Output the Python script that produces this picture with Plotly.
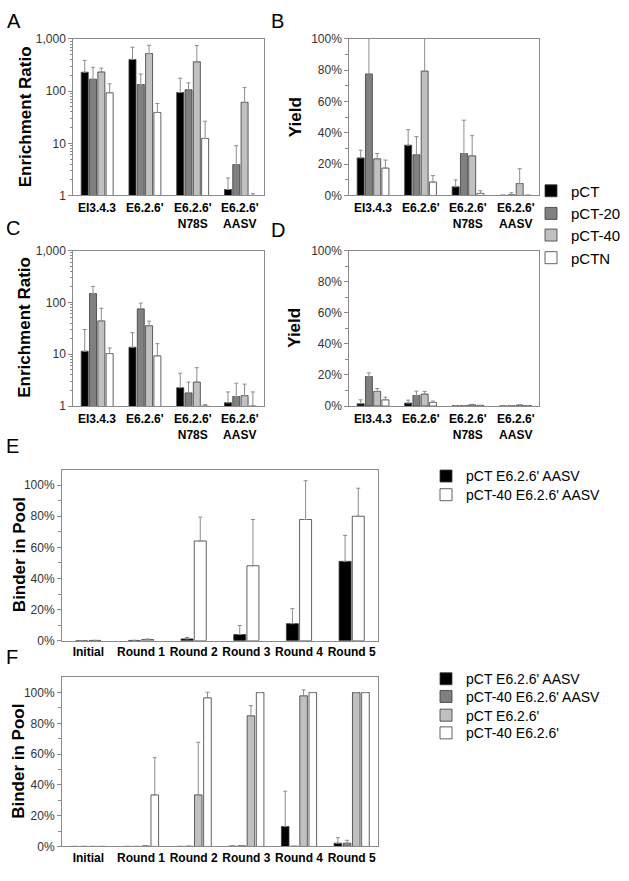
import plotly.graph_objects as go

W, H = 629, 881
FONT = "Liberation Sans"

# ---------------- data ----------------
groups = ["EI3.4.3", "E6.2.6'", "E6.2.6'<br>N78S", "E6.2.6'<br>AASV"]
series = ["pCT", "pCT-20", "pCT-40", "pCTN"]
series_colors = ["#000000", "#808080", "#c0c0c0", "#ffffff"]

# Panel A: enrichment ratio (value, top of error bar)
a_pct = [230, 405, 94, 1.3]
a_pct_top = [388, 694, 177, 2.16]
a_pct20 = [169, 134, 106, 3.9]
a_pct20_top = [286, 213, 144, 9.0]
a_pct40 = [233, 526, 366, 61]
a_pct40_top = [277, 757, 748, 117]
a_pctn = [93, 39, 12.4, 1.0]
a_pctn_top = [138, 58, 26.5, 1.08]

# Panel B: yield
b_pct = [0.24, 0.321, 0.055, 0.001]
b_pct_top = [0.289, 0.42, 0.099, 0.001]
b_pct20 = [0.776, 0.26, 0.268, 0.004]
b_pct20_top = [1.3, 0.376, 0.481, 0.017]
b_pct40 = [0.234, 0.795, 0.253, 0.076]
b_pct40_top = [0.268, 1.3, 0.382, 0.171]
b_pctn = [0.175, 0.086, 0.013, 0.001]
b_pctn_top = [0.226, 0.127, 0.03, 0.001]

# Panel C: enrichment ratio
c_pct = [11.4, 13.6, 2.26, 1.16]
c_pct_top = [30, 26, 4.3, 1.87]
c_pct20 = [148, 75, 1.79, 1.53]
c_pct20_top = [204, 97, 2.9, 2.77]
c_pct40 = [44, 35.5, 2.9, 1.59]
c_pct40_top = [77, 43.5, 5.5, 2.65]
c_pctn = [10.3, 9.3, 1.0, 1.0]
c_pctn_top = [13.2, 16, 1.07, 1.87]

# Panel D: yield
d_pct = [0.015, 0.019, 0.002, 0.001]
d_pct_top = [0.04, 0.038, 0.003, 0.002]
d_pct20 = [0.19, 0.068, 0.003, 0.002]
d_pct20_top = [0.213, 0.096, 0.004, 0.003]
d_pct40 = [0.094, 0.077, 0.008, 0.006]
d_pct40_top = [0.113, 0.094, 0.011, 0.008]
d_pctn = [0.04, 0.023, 0.004, 0.003]
d_pctn_top = [0.057, 0.032, 0.005, 0.004]

rounds = ["Initial", "Round 1", "Round 2", "Round 3", "Round 4", "Round 5"]

# Panel E: binder in pool
e_names = ["pCT E6.2.6' AASV", "pCT-40 E6.2.6' AASV"]
e_colors = ["#000000", "#ffffff"]
e_pct = [0.0, 0.002, 0.012, 0.04, 0.11, 0.51]
e_pct_top = [0.0, 0.003, 0.021, 0.098, 0.206, 0.677]
e_pct40 = [0.002, 0.008, 0.641, 0.482, 0.779, 0.80]
e_pct40_top = [0.003, 0.012, 0.794, 0.779, 1.028, 0.98]

# Panel F: binder in pool
f_names = ["pCT E6.2.6' AASV", "pCT-40 E6.2.6' AASV", "pCT E6.2.6'", "pCT-40 E6.2.6'"]
f_colors = ["#000000", "#808080", "#c0c0c0", "#ffffff"]
f_pct_aasv = [0.0, 0.0, 0.0, 0.002, 0.13, 0.021]
f_pct_aasv_top = [0.0, 0.0, 0.0, 0.004, 0.359, 0.057]
f_pct40_aasv = [0.0, 0.0, 0.001, 0.004, 0.001, 0.021]
f_pct40_aasv_top = [0.0, 0.0, 0.001, 0.006, 0.001, 0.04]
f_pct_e626 = [0.0, 0.003, 0.335, 0.849, 0.979, 1.0]
f_pct_e626_top = [0.0, 0.004, 0.677, 0.915, 1.017, 1.0]
f_pct40_e626 = [0.0, 0.335, 0.966, 1.0, 1.0, 1.0]
f_pct40_e626_top = [0.0, 0.577, 1.002, 1.0, 1.0, 1.0]

# ---------------- layout helpers ----------------
def dx(l, r):
    return [l / W, r / W]

def dy(t, b):
    return [1 - b / H, 1 - t / H]

FRAME = "#8a8a8a"
ERR = "#8c8c8c"
OUTLINE = "#3a3a3a"

fig = go.Figure()
legends = {}

def add_bars(xn, yn, cats, vals_list, tops_list, names, colors, bw, slot,
             legend_spec=None, group_prefix=""):
    """legend_spec: (first legend index, x_px, [y centers px], font size)"""
    n = len(vals_list)
    gw = n * slot
    for i, (vals, tops) in enumerate(zip(vals_list, tops_list)):
        plus = [max(t - v, 0) for v, t in zip(vals, tops)]
        off = -gw / 2 + i * slot + (slot - bw) / 2
        kw = dict(showlegend=False)
        if legend_spec:
            idx0, lx, ys, fs = legend_spec
            lname = "legend" if idx0 + i == 1 else f"legend{idx0 + i}"
            kw = dict(showlegend=True, legend=lname)
            legends[lname] = dict(
                x=lx / W, y=1 - ys[i] / H, xanchor="left", yanchor="middle",
                bgcolor="rgba(0,0,0,0)", borderwidth=0,
                itemclick=False, itemdoubleclick=False,
                font=dict(family=FONT, size=fs, color="#000000"))
        fig.add_trace(go.Bar(
            x=cats, y=vals, name=names[i],
            xaxis=xn, yaxis=yn,
            width=bw, offset=off,
            marker=dict(color=colors[i], line=dict(color=OUTLINE, width=0.8)),
            error_y=dict(type="data", symmetric=False, array=plus,
                         arrayminus=[0] * len(vals), color=ERR,
                         thickness=1, width=2),
            legendgroup=group_prefix + names[i],
            **kw,
        ))

# Panels A-D
W4 = 7 / 47.75
S4 = 8.3 / 47.75
add_bars("x", "y", groups, [a_pct, a_pct20, a_pct40, a_pctn],
         [a_pct_top, a_pct20_top, a_pct40_top, a_pctn_top],
         series, series_colors, W4, S4,
         legend_spec=(1, 531, [187, 210, 232, 255], 15))
add_bars("x2", "y2", groups, [b_pct, b_pct20, b_pct40, b_pctn],
         [b_pct_top, b_pct20_top, b_pct40_top, b_pctn_top],
         series, series_colors, W4, S4)
add_bars("x3", "y3", groups, [c_pct, c_pct20, c_pct40, c_pctn],
         [c_pct_top, c_pct20_top, c_pct40_top, c_pctn_top],
         series, series_colors, W4, S4)
add_bars("x4", "y4", groups, [d_pct, d_pct20, d_pct40, d_pctn],
         [d_pct_top, d_pct20_top, d_pct40_top, d_pctn_top],
         series, series_colors, W4, S4)

# Panel E
add_bars("x5", "y5", rounds, [e_pct, e_pct40], [e_pct_top, e_pct40_top],
         e_names, e_colors, 12 / 52.7, 13.2 / 52.7,
         legend_spec=(5, 426, [477, 496], 14), group_prefix="E ")
# Panel F
add_bars("x6", "y6", rounds,
         [f_pct_aasv, f_pct40_aasv, f_pct_e626, f_pct40_e626],
         [f_pct_aasv_top, f_pct40_aasv_top, f_pct_e626_top, f_pct40_e626_top],
         f_names, f_colors, 7.6 / 52.7, 9.2 / 52.7,
         legend_spec=(7, 426, [683, 701, 720, 738], 14), group_prefix="F ")

# ---------------- axes ----------------
xcommon = dict(type="category", showline=True, mirror=True, linecolor=FRAME,
               linewidth=1, ticks="", ticklen=0, showgrid=False, zeroline=False,
               tickfont=dict(family=FONT, size=12, color="#000000", weight="bold"))
xhidden = dict(xcommon, showticklabels=False)

log_minor = [m * 10 ** k for k in range(0, 3) for m in range(2, 10)]
ylog = dict(type="log", range=[0, 3], tickvals=[1, 10, 100, 1000],
            ticktext=["1", "10", "100", "1,000"],
            showline=True, mirror=True, linecolor=FRAME, linewidth=1,
            ticks="outside", ticklen=4, tickcolor=FRAME, showgrid=False,
            zeroline=False,
            minor=dict(tickmode="array", tickvals=log_minor, ticks="outside",
                       ticklen=2, tickcolor=FRAME),
            tickfont=dict(family=FONT, size=12, color="#333333"))

ypct = dict(range=[0, 1], tickvals=[0, 0.2, 0.4, 0.6, 0.8, 1.0],
            ticktext=["0%", "20%", "40%", "60%", "80%", "100%"],
            showline=True, mirror=True, linecolor=FRAME, linewidth=1,
            ticks="outside", ticklen=4, tickcolor=FRAME, showgrid=False,
            zeroline=False,
            minor=dict(tickmode="array", tickvals=[0.1, 0.3, 0.5, 0.7, 0.9],
                       ticks="outside", ticklen=3, tickcolor=FRAME),
            tickfont=dict(family=FONT, size=12, color="#333333"))

ypool = dict(ypct)
ypool["range"] = [0, 1.1]

TOP_AB, BOT_AB = 32.5, 191.5
TOP_CD, BOT_CD = 247.5, 405.5
layout_axes = {
    "xaxis": dict(xhidden, domain=dx(73.3, 264.3), anchor="y"),
    "yaxis": dict(ylog, domain=dy(TOP_AB, BOT_AB), anchor="x"),
    "xaxis2": dict(xhidden, domain=dx(349.3, 539.3), anchor="y2"),
    "yaxis2": dict(ypct, domain=dy(TOP_AB, BOT_AB), anchor="x2"),
    "xaxis3": dict(xhidden, domain=dx(73.3, 264.3), anchor="y3"),
    "yaxis3": dict(ylog, domain=dy(TOP_CD, BOT_CD), anchor="x3"),
    "xaxis4": dict(xhidden, domain=dx(349.3, 539.3), anchor="y4"),
    "yaxis4": dict(ypct, domain=dy(TOP_CD, BOT_CD), anchor="x4"),
    "xaxis5": dict(xcommon, domain=dx(62, 378), anchor="y5"),
    "yaxis5": dict(ypool, domain=dy(470, 644), anchor="x5"),
    "xaxis6": dict(xcommon, domain=dx(62, 378), anchor="y6"),
    "yaxis6": dict(ypool, domain=dy(681, 853), anchor="x6"),
}

# ---------------- annotations ----------------
ann = []
for txt, x, y in [("A", 14, 14), ("B", 277, 14), ("C", 13, 225), ("D", 278, 227),
                  ("E", 12, 446), ("F", 12, 661)]:
    ann.append(dict(text=txt, x=x / W, y=1 - y / H, xref="paper", yref="paper",
                    showarrow=False, xanchor="center", yanchor="middle",
                    font=dict(family=FONT, size=20, color="#000000")))
for txt, x, y in [("Enrichment Ratio", 25, 112), ("Yield", 295, 112),
                  ("Enrichment Ratio", 25, 326), ("Yield", 295, 326),
                  ("Binder in Pool", 19, 557), ("Binder in Pool", 19, 767)]:
    ann.append(dict(text=txt, x=x / W, y=1 - y / H, xref="paper", yref="paper",
                    showarrow=False, xanchor="center", yanchor="middle",
                    textangle=-90,
                    font=dict(family=FONT, size=17, color="#000000", weight="bold")))
# category labels of panels A-D (two-line labels placed just under the frame)
for xr, ytop in [("x", BOT_AB + 4), ("x2", BOT_AB + 4), ("x3", BOT_CD + 4), ("x4", BOT_CD + 4)]:
    for g in groups:
        ann.append(dict(text=g, x=g, xref=xr, y=1 - ytop / H, yref="paper",
                        showarrow=False, xanchor="center", yanchor="top",
                        align="center",
                        font=dict(family=FONT, size=12, color="#000000", weight="bold")))

fig.update_layout(
    width=W, height=H,
    margin=dict(l=0, r=0, t=0, b=0),
    paper_bgcolor="#ffffff", plot_bgcolor="#ffffff",
    barmode="overlay",
    font=dict(family=FONT, color="#000000"),
    annotations=ann,
    **legends,
    **layout_axes,
)

fig.write_html("out.html", config={"displayModeBar": False},
               post_script="document.body.style.margin='0px';")
